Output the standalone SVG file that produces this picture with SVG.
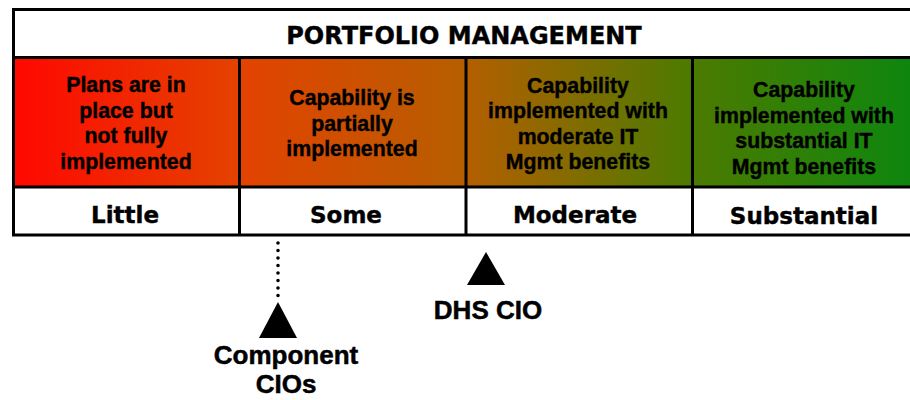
<svg xmlns="http://www.w3.org/2000/svg" width="910" height="400" viewBox="0 0 910 400">
<defs>
<linearGradient id="g" gradientUnits="userSpaceOnUse" x1="14" y1="0" x2="910" y2="0">
<stop offset="0" stop-color="#ff0800"/>
<stop offset="0.25" stop-color="#e44200"/>
<stop offset="0.5" stop-color="#b65e00"/>
<stop offset="0.75" stop-color="#4e7a00"/>
<stop offset="1" stop-color="#0e860e"/>
</linearGradient>
<style>
.ln{stroke:#000;stroke-width:3;fill:none}
.hd{font-family:"DejaVu Sans",sans-serif;font-weight:bold;font-size:24px;text-anchor:middle;fill:#000;stroke:#000;stroke-width:0.4}
.ct{font-family:"Liberation Sans",Arial,sans-serif;font-weight:bold;font-size:21.3px;text-anchor:middle;fill:#000;stroke:#000;stroke-width:0.4}
.lb{font-family:"DejaVu Sans",sans-serif;font-weight:bold;font-size:23px;text-anchor:middle;fill:#000;stroke:#000;stroke-width:0.4}
.mk{font-family:"Liberation Sans",Arial,sans-serif;font-weight:bold;font-size:26px;text-anchor:middle;fill:#000;stroke:#000;stroke-width:0.5}
</style>
</defs>
<rect x="0" y="0" width="910" height="400" fill="#fff"/>
<g id="table">
<rect x="14" y="58" width="896" height="129" fill="url(#g)"/>
<path class="ln" d="M13 9.5H910M13 57.5H910M13 187H910M13 235H910M13.5 8V236.5M239.5 57V236.5M466 57V236.5M692.5 57V236.5"/>
<text class="hd" x="464" y="44">PORTFOLIO MANAGEMENT</text>
</g>
<g id="cell-little">
<text class="ct" x="126" y="92">Plans are in</text>
<text class="ct" x="126" y="117.5">place but</text>
<text class="ct" x="126" y="143">not fully</text>
<text class="ct" x="126" y="168.5">implemented</text>
<text class="lb" x="125" y="223">Little</text>
</g>
<g id="cell-some">
<text class="ct" x="352" y="105">Capability is</text>
<text class="ct" x="352" y="130.5">partially</text>
<text class="ct" x="352" y="156">implemented</text>
<text class="lb" x="346" y="223">Some</text>
</g>
<g id="cell-moderate">
<text class="ct" x="578" y="92.5">Capability</text>
<text class="ct" x="578" y="118">implemented with</text>
<text class="ct" x="578" y="143.5">moderate IT</text>
<text class="ct" x="578" y="169">Mgmt benefits</text>
<text class="lb" x="575" y="223">Moderate</text>
</g>
<g id="cell-substantial">
<text class="ct" x="804" y="97">Capability</text>
<text class="ct" x="804" y="122.5">implemented with</text>
<text class="ct" x="804" y="148">substantial IT</text>
<text class="ct" x="804" y="173.5">Mgmt benefits</text>
<text class="lb" x="804" y="224">Substantial</text>
</g>
<g id="connectors">
<path d="M278 243V300" stroke="#000" stroke-width="3.6" stroke-linecap="round" stroke-dasharray="0 7.5" fill="none"/>
</g>
<g id="component-cios">
<polygon points="278,302 259,338 297,338" fill="#000"/>
<text class="mk" x="286" y="364">Component</text>
<text class="mk" x="286" y="393">CIOs</text>
</g>
<g id="dhs-cio">
<polygon points="486,252 467,285 505,285" fill="#000"/>
<text class="mk" x="488" y="319">DHS CIO</text>
</g>
</svg>
